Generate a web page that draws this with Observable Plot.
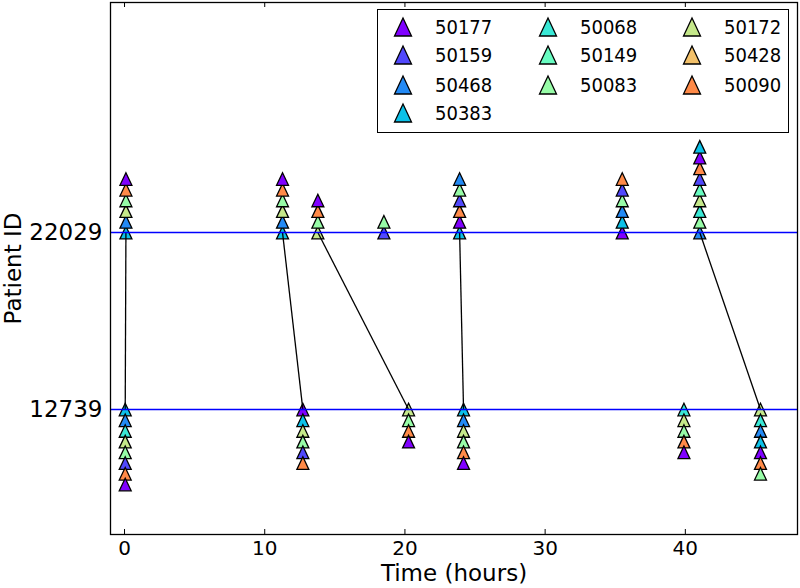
<!DOCTYPE html>
<html>
<head>
<meta charset="utf-8">
<script src="https://cdn.jsdelivr.net/npm/d3@7"></script>
<script src="https://cdn.jsdelivr.net/npm/@observablehq/plot@0.6"></script>
<style>
  html, body { margin: 0; padding: 0; background: #fff; }
  #wrap { position: relative; width: 800px; height: 588px; font-family: "DejaVu Sans", sans-serif; }
  #legend { position: absolute; left: 377px; top: 9px; width: 410px; height: 122px; border: 1.3px solid #000; background: #fff; }
  .entry { position: absolute; height: 24px; font-size: 20px; color: #000; font-family: "DejaVu Sans Condensed", "DejaVu Sans", sans-serif; }
  .entry svg { position: absolute; left: -10px; top: 1px; overflow: visible; }
  .entry span { position: absolute; left: 33px; top: 0px; line-height: 24px; white-space: nowrap; }
</style>
</head>
<body>
<div id="wrap"></div>
<script>
// ---- data ----
const patients = ["12739", "22029"];
const sampleIds = ["50177","50159","50468","50383","50068","50149","50083","50172","50428","50090"];
const sampleColors = ["#8000ff","#5148fc","#238af5","#0cc1e8","#3ae8d6","#68fcc1","#97fca7","#c5e88a","#f3c16a","#ff8a48"];

// stacks of samples at a time for a patient, listed from the patient line outward
const stackPatient = ["22029","22029","22029","22029","22029","22029","22029",
                      "12739","12739","12739","12739","12739","12739"];
const stackTime = [0.1, 11.27, 13.79, 18.5, 23.9, 35.5, 41.03,
                   0.05, 12.72, 20.26, 24.18, 39.9, 45.36];
const stackSamples = [
  ["50383","50468","50172","50083","50090","50177"],
  ["50383","50468","50172","50083","50090","50177"],
  ["50172","50083","50090","50177"],
  ["50159","50083"],
  ["50383","50177","50090","50159","50083","50468"],
  ["50177","50383","50468","50083","50159","50090"],
  ["50468","50083","50068","50172","50149","50159","50090","50177","50383"],
  ["50383","50468","50068","50172","50083","50159","50090","50177"],
  ["50177","50383","50172","50083","50159","50090"],
  ["50172","50083","50090","50177"],
  ["50383","50468","50172","50083","50090","50177"],
  ["50068","50172","50083","50090","50177"],
  ["50172","50068","50468","50383","50177","50090","50083"]
];

// transfers from patient 22029 to patient 12739
const transferFromPatient = ["22029","22029","22029","22029","22029"];
const transferToPatient   = ["12739","12739","12739","12739","12739"];
const transferFromTime = [0.1, 11.27, 13.79, 23.9, 41.03];
const transferToTime   = [0.05, 12.72, 20.26, 24.18, 45.36];

const xTicks = [0, 10, 20, 30, 40];
const xLabel = "Time (hours)";
const yLabel = "Patient ID";

// ---- build tables ----
const stackStep = 0.0605;
const points = [];
stackTime.forEach((t, i) => {
  const base = patients.indexOf(stackPatient[i]);
  const dir = base === 1 ? 1 : -1;
  stackSamples[i].forEach((s, k) => {
    points.push({time: t, patient: stackPatient[i], sample: s, pos: base + dir * k * stackStep});
  });
});
const transfers = transferFromTime.map((t, i) => ({
  t1: t, p1: patients.indexOf(transferFromPatient[i]),
  t2: transferToTime[i], p2: patients.indexOf(transferToPatient[i])
}));
const patientPos = patients.map((p, i) => i);

// matplotlib-like '^' marker
const tri = {
  draw(ctx, size) {
    const a = Math.sqrt(size) / 2;
    ctx.moveTo(0, -a);
    ctx.lineTo(a * 0.95, a);
    ctx.lineTo(-a * 0.95, a);
    ctx.closePath();
  }
};

const plotH = 588 - 2 - 54;
const chart = Plot.plot({
  width: 800,
  height: 588,
  marginLeft: 110,
  marginRight: 3,
  marginTop: 2,
  marginBottom: 54,
  style: {fontFamily: "DejaVu Sans, sans-serif", background: "#fff", color: "#000"},
  x: {domain: [-1, 48]},
  y: {domain: [-0.706, 2.3]},
  color: {domain: sampleIds, range: sampleColors},
  marks: [
    Plot.dot(points, {x: "time", y: "pos", fill: "sample", symbol: tri, r: 7.1, stroke: "#000", strokeWidth: 1.3}),
    Plot.link(transfers, {x1: "t1", y1: "p1", x2: "t2", y2: "p2", stroke: "#000", strokeWidth: 1.3}),
    Plot.ruleY(patientPos, {y: d => d, stroke: "#0000ff", strokeWidth: 1.6}),
    Plot.tickX(xTicks, {x: d => d, insetTop: plotH - 5, stroke: "#000", strokeWidth: 1}),
    Plot.tickX(xTicks, {x: d => d, insetBottom: plotH - 5, stroke: "#000", strokeWidth: 1}),
    Plot.frame({stroke: "#000", strokeWidth: 1.3}),
    Plot.axisX(xTicks, {tickSize: 0, tickPadding: 6, fontSize: 20, label: null}),
    Plot.axisY(patientPos, {tickSize: 0, tickPadding: 8, fontSize: 23, label: null, tickFormat: i => patients[i]}),
    Plot.text([xLabel], {frameAnchor: "bottom", dy: 39, fontSize: 23, lineAnchor: "middle"}),
    Plot.text([yLabel], {frameAnchor: "left", dx: -97, rotate: -90, fontSize: 23, lineAnchor: "middle", textAnchor: "middle"})
  ]
});

const wrap = document.getElementById("wrap");
wrap.appendChild(chart);

// ---- legend (3 columns, column-major like matplotlib) ----
const legend = document.createElement("div");
legend.id = "legend";
const perCol = [4, 3, 3];
const colX = [24, 169, 313];
const rowY = [5, 33, 63, 91];
let idx = 0;
perCol.forEach((n, c) => {
  for (let r = 0; r < n; r++, idx++) {
    const e = document.createElement("div");
    e.className = "entry";
    e.style.left = colX[c] + "px";
    e.style.top = rowY[r] + "px";
    e.innerHTML = `<svg width="22" height="22" viewBox="-11 -11 22 22"><path d="M0,-9L8.5,9L-8.5,9Z" fill="${sampleColors[idx]}" stroke="#000" stroke-width="1.3"/></svg><span>${sampleIds[idx]}</span>`;
    legend.appendChild(e);
  }
});
wrap.appendChild(legend);
</script>
</body>
</html>
